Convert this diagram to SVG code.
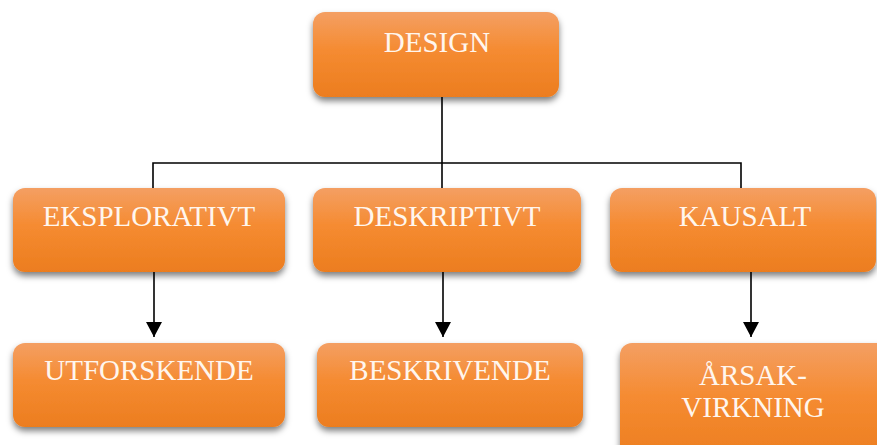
<svg xmlns="http://www.w3.org/2000/svg" width="877" height="445" viewBox="0 0 877 445">
  <defs>
    <linearGradient id="orange" x1="0" y1="0" x2="0" y2="1">
      <stop offset="0" stop-color="#F49F63"/>
      <stop offset="0.45" stop-color="#F58B31"/>
      <stop offset="1" stop-color="#EC7D1F"/>
    </linearGradient>
    <filter id="shadow" x="-10%" y="-20%" width="120%" height="150%">
      <feDropShadow dx="0" dy="4" stdDeviation="3" flood-color="#000" flood-opacity="0.5"/>
    </filter>
    <marker id="arrow" viewBox="0 0 15 16" refX="15" refY="8" markerWidth="15" markerHeight="16" markerUnits="userSpaceOnUse" orient="auto">
      <path d="M0,0 L15,8 L0,16 Z" fill="#000"/>
    </marker>
  </defs>
  <style>
    .box { fill: url(#orange); filter: url(#shadow); }
    .label { font-family: "Liberation Serif", "Times New Roman", serif; font-size: 29px; fill: #FFF6EE; text-anchor: middle; }
    .link { fill: none; stroke: #000; stroke-width: 1.6; }
  </style>
  <rect width="877" height="445" fill="#fff"/>

  <g id="connectors">
    <path class="link" d="M442,97 V188"/>
    <path class="link" d="M153,188 V163 H741 V188"/>
    <path class="link" d="M154,272 V337" marker-end="url(#arrow)"/>
    <path class="link" d="M443,272 V337" marker-end="url(#arrow)"/>
    <path class="link" d="M751,272 V337" marker-end="url(#arrow)"/>
  </g>

  <g id="design">
    <rect class="box" x="313" y="12" width="246" height="85" rx="12"/>
    <text class="label" x="437" y="52">DESIGN</text>
  </g>
  <g id="eksplorativt">
    <rect class="box" x="13" y="188" width="272" height="84" rx="12"/>
    <text class="label" x="149" y="226">EKSPLORATIVT</text>
  </g>
  <g id="deskriptivt">
    <rect class="box" x="313" y="188" width="268" height="84" rx="12"/>
    <text class="label" x="447" y="226">DESKRIPTIVT</text>
  </g>
  <g id="kausalt">
    <rect class="box" x="610" y="188" width="266" height="84" rx="12"/>
    <text class="label" x="745" y="226">KAUSALT</text>
  </g>
  <g id="utforskende">
    <rect class="box" x="13" y="343" width="272" height="84" rx="12"/>
    <text class="label" x="149" y="380">UTFORSKENDE</text>
  </g>
  <g id="beskrivende">
    <rect class="box" x="317" y="343" width="266" height="84" rx="12"/>
    <text class="label" x="450" y="380">BESKRIVENDE</text>
  </g>
  <g id="arsak-virkning">
    <rect class="box" x="620" y="343" width="270" height="120" rx="12"/>
    <text class="label" x="753" y="385">ÅRSAK-</text>
    <text class="label" x="753" y="417">VIRKNING</text>
  </g>
</svg>
